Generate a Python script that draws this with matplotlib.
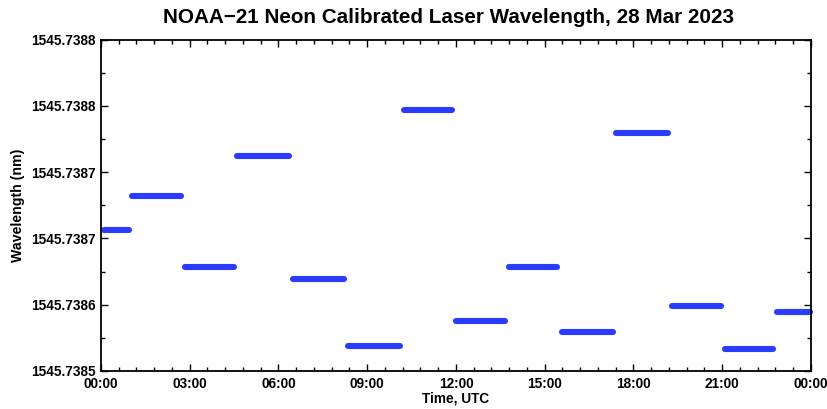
import matplotlib
matplotlib.use("Agg")
import matplotlib.pyplot as plt
from matplotlib.ticker import MultipleLocator, FixedLocator

plt.rcParams['font.family'] = ['Liberation Sans', 'DejaVu Sans']

# Data: each calibration segment (start hour, end hour, wavelength nm)
seg_start = [0.10, 1.05, 2.84, 4.60, 6.49, 8.35, 10.24, 12.00, 13.79, 15.58, 17.41, 19.30, 21.10, 22.85]
seg_end   = [0.95, 2.70, 4.50, 6.36, 8.21, 10.11, 11.87, 13.66, 15.42, 17.31, 19.17, 20.96, 22.72, 23.97]
wavelength = [1545.738668, 1545.738698, 1545.738634, 1545.738735, 1545.738623, 1545.738563,
              1545.738776, 1545.738585, 1545.738634, 1545.738575, 1545.738755, 1545.738599,
              1545.738560, 1545.738593]

y_ticks = [1545.73854, 1545.73860, 1545.73866, 1545.73872, 1545.73878, 1545.73884]
y_tick_labels = ['1545.7385', '1545.7386', '1545.7387', '1545.7387', '1545.7388', '1545.7388']
x_ticks = [0, 3, 6, 9, 12, 15, 18, 21, 24]
x_tick_labels = ['00:00', '03:00', '06:00', '09:00', '12:00', '15:00', '18:00', '21:00', '00:00']

fig = plt.figure(figsize=(8.28, 4.09), dpi=100)
ax = fig.add_axes([101/828, 1-371/409, (811-101)/828, (371-39.5)/409])

lc = ax.hlines(wavelength, seg_start, seg_end, colors='#2a3cff', linewidth=4.4)
lc.set_capstyle('round')
lc.set_clip_on(False)

ax.set_xlim(0, 24)
ax.set_ylim(y_ticks[0], y_ticks[-1])
ax.xaxis.set_major_locator(FixedLocator(x_ticks))
ax.set_xticklabels(x_tick_labels)
ax.xaxis.set_minor_locator(MultipleLocator(0.6))
ax.yaxis.set_major_locator(FixedLocator(y_ticks))
ax.set_yticklabels(y_tick_labels)
ax.yaxis.set_minor_locator(MultipleLocator(0.00003))

ax.tick_params(which='both', direction='in', top=True, right=True, width=1.0, colors='black')
ax.tick_params(which='major', length=5, labelsize=9.8, pad=4)
ax.tick_params(which='minor', length=3)
for lab in ax.get_xticklabels() + ax.get_yticklabels():
    lab.set_fontweight('bold')
for s in ax.spines.values():
    s.set_linewidth(1.3)

ax.set_xlabel('Time, UTC', fontsize=9.8, fontweight='bold', labelpad=1)
ax.set_ylabel('Wavelength (nm)', fontsize=10.2, fontweight='bold', labelpad=4)
fig.text(449/828, 1-17.5/409, 'NOAA\u221221 Neon Calibrated Laser Wavelength, 28 Mar 2023',
         ha='center', va='center', fontsize=14.9, fontweight='bold')

fig.savefig('out.png', dpi=100)
